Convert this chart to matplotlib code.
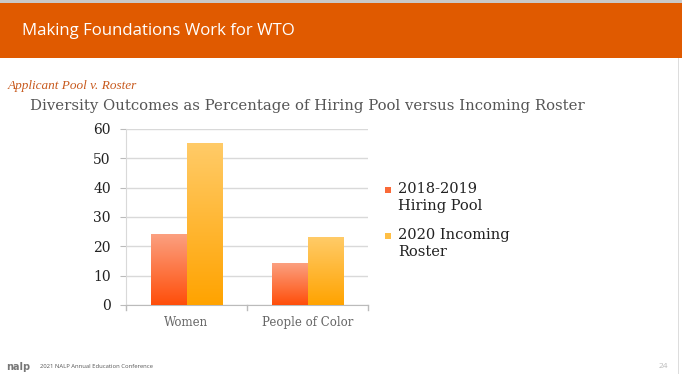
import numpy as np
import matplotlib.pyplot as plt
from matplotlib.patches import Rectangle
from matplotlib.colors import LinearSegmentedColormap

# Data
categories = ['Women', 'People of Color']
series_names = ['2018-2019\nHiring Pool', '2020 Incoming\nRoster']
hiring_pool = [24, 14]
incoming_roster = [55, 23]
yticks = [0, 10, 20, 30, 40, 50, 60]

W, H = 682, 374
fig = plt.figure(figsize=(W / 100, H / 100), dpi=100)

def fx(px):
    return px / W

def fy(py):
    return 1 - py / H

SERIF = 'DejaVu Serif'

# header band
fig.patches.append(Rectangle((0, fy(58)), 1, fy(3) - fy(58), transform=fig.transFigure,
                             facecolor='#E05A00', edgecolor='none'))
fig.patches.append(Rectangle((0, fy(3)), 1, fy(0) - fy(3), transform=fig.transFigure,
                             facecolor='#C9C9C9', edgecolor='none'))
fig.text(fx(22), fy(31), 'Making Foundations Work for WTO', color='white',
         fontsize=12.1, family='Open Sans', va='center', ha='left')

# subtitles
fig.text(fx(8), fy(86), 'Applicant Pool v. Roster', color='#C85A1E', fontsize=9.5,
         family='Liberation Serif', style='italic', va='center')
fig.text(fx(30), fy(106), 'Diversity Outcomes as Percentage of Hiring Pool versus Incoming Roster',
         color='#555555', fontsize=10.7, family=SERIF, va='center')

# chart
ax = fig.add_axes([fx(126), fy(305), fx(368) - fx(126), fy(129) - fy(305)])
x = np.arange(len(categories))
bw = 0.29
cmap_pool = LinearSegmentedColormap.from_list('pool', ['#FF4E0A', '#FBA080'])
cmap_roster = LinearSegmentedColormap.from_list('roster', ['#FFA300', '#FFCB68'])
grad = np.linspace(0, 1, 256).reshape(-1, 1)

for vals, offset, cmap in [(hiring_pool, -bw / 2, cmap_pool), (incoming_roster, bw / 2, cmap_roster)]:
    bars = ax.bar(x + offset, vals, bw, color='none', edgecolor='none', zorder=3)
    for b in bars:
        x0, y0 = b.get_x(), b.get_y()
        ax.imshow(grad, cmap=cmap, origin='lower', aspect='auto',
                  extent=[x0, x0 + b.get_width(), y0, y0 + b.get_height()], zorder=3)

ax.set_xlim(-0.5, 1.5)
ax.set_ylim(0, 60)
ax.set_yticks(yticks)
ax.set_yticklabels([str(t) for t in yticks], family=SERIF, fontsize=10, color='#222222')
ax.set_xticks(x)
ax.set_xticklabels(categories, family=SERIF, fontsize=8.5, color='#666666')
ax.tick_params(axis='x', length=0, pad=8)
ax.tick_params(axis='y', length=4, color='#BBBBBB', pad=7)
for t in [-0.5, 0.5, 1.5]:
    ax.plot([t, t], [0, -1.8], color='#BBBBBB', lw=1, clip_on=False)
ax.grid(axis='y', color='#D9D9D9', lw=1, zorder=0)
for s in ['top', 'right']:
    ax.spines[s].set_visible(False)
ax.spines['left'].set_color('#D9D9D9')
ax.spines['bottom'].set_color('#BBBBBB')

# legend
for py, name, col in [(190, series_names[0], '#FA6A38'), (236, series_names[1], '#FFBF45')]:
    fig.patches.append(Rectangle((fx(385), fy(py + 3)), fx(6), fy(0) - fy(6), transform=fig.transFigure,
                                 facecolor=col, edgecolor='none'))
    fig.text(fx(398), fy(py - 8), name, family=SERIF, fontsize=10.5, color='#222222',
             va='top', linespacing=1.3)

# footer
fig.text(fx(6), fy(367), 'nalp', family='DejaVu Sans', fontsize=7, weight='bold', color='#777777', va='center')
fig.text(fx(40), fy(367), '2021 NALP Annual Education Conference', family='Open Sans', fontsize=4.2,
         color='#555555', va='center')
fig.text(fx(668), fy(367), '24', family='Open Sans', fontsize=6, color='#BBBBBB', va='center', ha='right')
fig.patches.append(Rectangle((fx(678), 0), fx(1), fy(58), transform=fig.transFigure,
                             facecolor='#DDDDDD', edgecolor='none'))

fig.savefig('out.png', dpi=100)
